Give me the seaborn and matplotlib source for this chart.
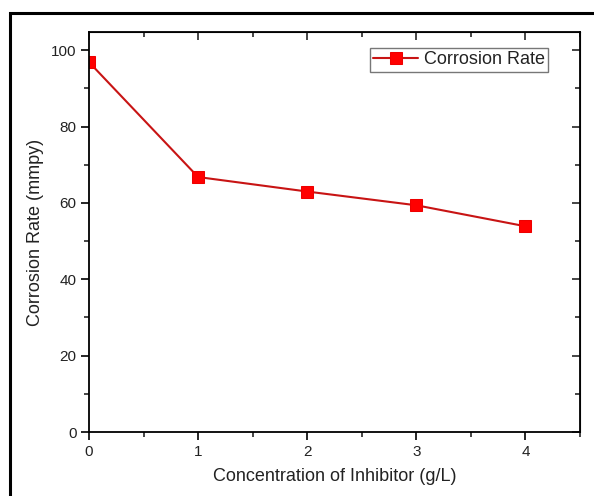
import matplotlib
matplotlib.use("Agg")
import matplotlib.pyplot as plt
import seaborn as sns
import pandas as pd
from matplotlib.patches import Rectangle
from matplotlib.ticker import MultipleLocator

concentration = [0, 1, 2, 3, 4]
corrosion_rate = [96.9, 66.8, 63.0, 59.4, 53.9]

df = pd.DataFrame({"Concentration": concentration, "Corrosion Rate": corrosion_rate})

sns.set_style("ticks")
plt.rcParams["font.family"] = ["Liberation Sans", "DejaVu Sans"]

fig = plt.figure(figsize=(5.94, 4.96), dpi=100)
ax = fig.add_axes([89/594, 1 - 432/496, (580 - 89)/594, (432 - 32)/496])

sns.lineplot(data=df, x="Concentration", y="Corrosion Rate", ax=ax,
             color="#c81414", linewidth=1.5, marker="s", markersize=8,
             markerfacecolor="#ff0000", markeredgecolor="#ee0000",
             label="Corrosion Rate")

ax.set_xlim(0, 4.5)
ax.set_ylim(0, 104.8)
ax.xaxis.set_major_locator(MultipleLocator(1))
ax.xaxis.set_minor_locator(MultipleLocator(0.5))
ax.yaxis.set_major_locator(MultipleLocator(20))
ax.yaxis.set_minor_locator(MultipleLocator(10))

for s in ax.spines.values():
    s.set_linewidth(1.3)
    s.set_color("black")

ax.tick_params(axis="both", which="major", direction="out", length=6, width=1.2,
               labelsize=11, colors="black", labelcolor="#222222", pad=3)
ax.tick_params(axis="both", which="minor", direction="out", length=3.5, width=1.2)

# top/right ticks inward
ax2 = ax.secondary_xaxis("top")
ax2.xaxis.set_major_locator(MultipleLocator(1))
ax2.xaxis.set_minor_locator(MultipleLocator(0.5))
ax2.tick_params(which="major", direction="in", length=6, width=1.2, labeltop=False)
ax2.tick_params(which="minor", direction="in", length=3.5, width=1.2)
ax2.set_xticklabels([])
ax3 = ax.secondary_yaxis("right")
ax3.yaxis.set_major_locator(MultipleLocator(20))
ax3.yaxis.set_minor_locator(MultipleLocator(10))
ax3.tick_params(which="major", direction="in", length=6, width=1.2, labelright=False)
ax3.tick_params(which="minor", direction="in", length=3.5, width=1.2)
ax3.set_yticklabels([])

ax.set_xlabel("Concentration of Inhibitor (g/L)", fontsize=13, labelpad=7, color="#222222")
ax.set_ylabel("Corrosion Rate (mmpy)", fontsize=13, labelpad=5, color="#222222")

leg = ax.legend(loc="upper right", bbox_to_anchor=(0.943, 0.97), fontsize=13,
                frameon=True, fancybox=False, edgecolor="#555555",
                handlelength=2.5, borderpad=0.2, handletextpad=0.3,
                borderaxespad=0.2)
leg.get_frame().set_linewidth(1.0)
for t in leg.get_texts():
    t.set_color("#222222")

fig.patches.append(Rectangle((10/594, -0.05), 1.2, 1.05 - 13/496,
                             transform=fig.transFigure, fill=False,
                             edgecolor="black", linewidth=2.2, figure=fig))

fig.savefig("out.png", dpi=100)
